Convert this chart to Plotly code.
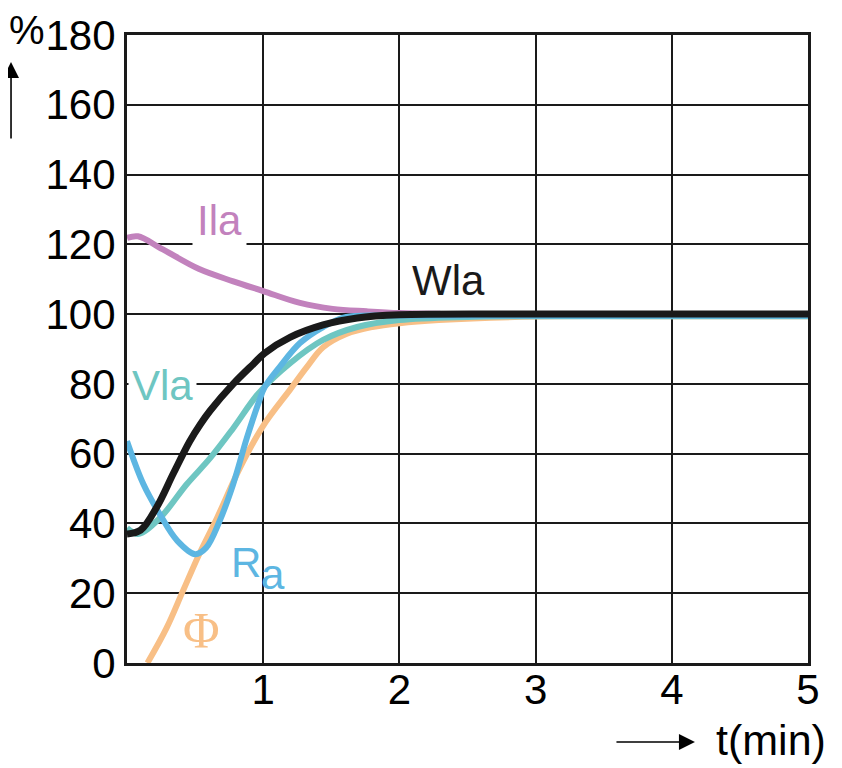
import plotly.graph_objects as go

# values (t in minutes, value in %)
t_ila = [0, 0.08, 0.26, 0.53, 0.78, 1.0, 1.27, 1.51, 1.76, 2.0, 2.3]
ila = [121.8, 122.3, 118.6, 112.9, 109.4, 106.6, 103.2, 101.5, 100.8, 100.3, 100.1]

t_phi = [0.15, 0.29, 0.41, 0.53, 0.66, 0.83, 1.0, 1.2, 1.32, 1.44, 1.61, 1.8, 2.0, 2.29, 3, 4, 5]
phi = [0, 10, 20.6, 31.2, 41.5, 56, 68, 78.5, 84.8, 90.5, 94.3, 96.3, 97.4, 98.3, 99.3, 99.4, 99.4]

t_vla = [0, 0.08, 0.24, 0.44, 0.61, 0.78, 0.97, 1.2, 1.44, 1.69, 2.0, 2.5, 3, 4, 5]
vla = [38.7, 37, 41.5, 51.3, 58.7, 67.3, 77.5, 86, 92.6, 96.3, 98.3, 99.2, 99.4, 99.4, 99.4]

t_ra = [0, 0.12, 0.24, 0.37, 0.5, 0.58, 0.68, 0.78, 0.88, 0.97, 1.01, 1.12, 1.27, 1.44, 1.61, 2.0, 3, 4, 5]
ra = [63.6, 51.3, 42.7, 35, 31.2, 33, 40.7, 51.3, 64.5, 75, 79, 84.8, 91.7, 96.3, 99.2, 99.5, 99.5, 99.5, 99.5]

t_wla = [0, 0.1, 0.22, 0.34, 0.46, 0.54, 0.61, 0.78, 0.93, 1.01, 1.2, 1.44, 1.69, 2.0, 3, 4, 5]
wla = [37, 38.1, 44.8, 54.3, 63.5, 68.5, 72.3, 80, 85.8, 88.8, 93.4, 96.9, 98.9, 99.8, 100, 100, 100]

y_ticks = [0, 20, 40, 60, 80, 100, 120, 140, 160, 180]
x_ticks = [1, 2, 3, 4, 5]

PURPLE = '#c282bd'
ORANGE = '#f8bf86'
TEAL = '#6ec6c2'
BLUE = '#5db6e2'
BLACK = '#1a1a1a'
FONT = 'Liberation Sans, Arial, sans-serif'

fig = go.Figure()

series = [
    (t_ila, ila, PURPLE, 6),
    (t_phi, phi, ORANGE, 6),
    (t_vla, vla, TEAL, 6),
    (t_ra, ra, BLUE, 6),
    (t_wla, wla, BLACK, 7),
]
for tx, vy, col, w in series:
    fig.add_trace(go.Scatter(x=tx, y=vy, mode='lines',
                             line=dict(color=col, width=w, shape='spline', smoothing=1.0),
                             showlegend=False, hoverinfo='skip'))

# curve labels
def label(text, x, y, color, size=42, family=FONT, bg=None, pad=1):
    fig.add_annotation(x=x, y=y, xref='x', yref='y', text=text, showarrow=False,
                       font=dict(family=family, size=size, color=color),
                       bgcolor=bg, borderpad=pad)

label('Ila', 0.68, 126.8, PURPLE, bg='white', pad=4)
label('Vla', 0.264, 79.4, TEAL, bg='white', pad=3)
label('Wla', 2.364, 109.5, BLACK)
label('R', 0.874, 28.7, BLUE)
label('a', 1.072, 25.5, BLUE)
label('Φ', 0.55, 9.5, ORANGE, size=50, family='Liberation Serif, Times New Roman, serif')

# axis captions and arrows
fig.add_annotation(x=-0.1469, y=1.008, xref='paper', yref='paper', text='%', showarrow=False,
                   xanchor='center', yanchor='middle',
                   font=dict(family=FONT, size=40, color='black'))
fig.add_annotation(x=-0.1703, y=0.957, xref='paper', yref='paper', text='', showarrow=True,
                   ax=0, ay=78, arrowhead=2, arrowsize=2, arrowwidth=1.6, arrowcolor='black')
fig.add_annotation(x=0.9457, y=-0.1226, xref='paper', yref='paper', text='t(min)', showarrow=False,
                   xanchor='center', yanchor='middle',
                   font=dict(family=FONT, size=43, color='black'))
fig.add_annotation(x=0.834, y=-0.1258, xref='paper', yref='paper', text='', showarrow=True,
                   ax=-80, ay=0, arrowhead=2, arrowsize=2, arrowwidth=1.6, arrowcolor='black')

# page has an 8px body margin, so margins are trimmed to land the plot on the reference frame
fig.update_layout(
    width=842, height=768,
    margin=dict(l=119, r=42, t=27, b=113),
    paper_bgcolor='white', plot_bgcolor='white',
    font=dict(family=FONT, size=42, color='black'),
    showlegend=False,
)
fig.update_xaxes(range=[0, 5], tickvals=x_ticks, showgrid=True, gridcolor=BLACK, gridwidth=1.5,
                 zeroline=False, showline=True, linecolor=BLACK, linewidth=3, mirror=True,
                 automargin=False,
                 ticks='', ticklabelstandoff=-12, tickfont=dict(size=42, color='black'))
fig.update_yaxes(range=[0, 180], tickvals=y_ticks, showgrid=True, gridcolor=BLACK, gridwidth=1.5,
                 zeroline=False, showline=True, linecolor=BLACK, linewidth=3, mirror=True,
                 automargin=False,
                 ticks='', ticklabelstandoff=0, tickfont=dict(size=42, color='black'))

fig.write_html('out.html')
